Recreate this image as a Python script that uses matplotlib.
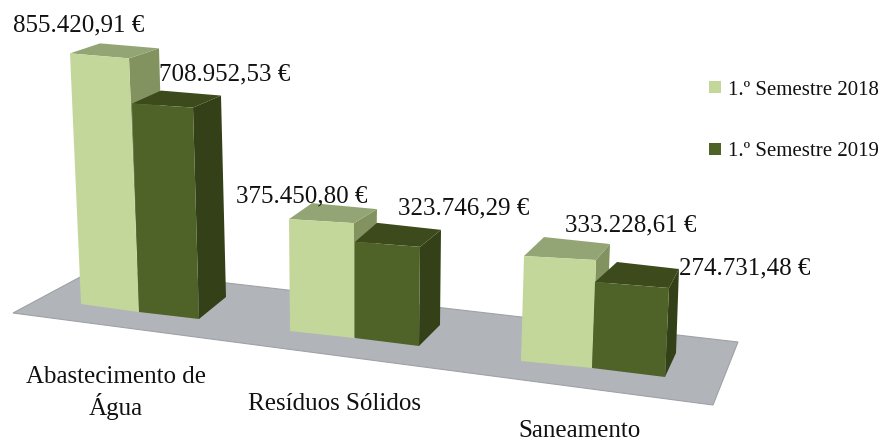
import matplotlib
matplotlib.use('Agg')
import matplotlib.pyplot as plt

plt.rcParams['font.family'] = ['Liberation Serif', 'DejaVu Serif']

# data
categories = ['Abastecimento de\nÁgua', 'Resíduos Sólidos', 'Saneamento']
series_names = ['1.º Semestre 2018', '1.º Semestre 2019']
values_2018 = [855420.91, 375450.80, 333228.61]
values_2019 = [708952.53, 323746.29, 274731.48]
labels_2018 = ['855.420,91 €', '375.450,80 €', '333.228,61 €']
labels_2019 = ['708.952,53 €', '323.746,29 €', '274.731,48 €']

# fake 3d layout, in image pixels, measured bar by bar (2018 then 2019 in each group)
base_left = [[(81, 304), (139, 312)], [(290, 331), (355, 338)], [(521, 361), (592, 368)]]
base_right = [[(139, 312), (199, 319)], [(354, 338), (419, 346)], [(592, 368), (665, 377)]]
px_per_euro = [[0.000293, 0.000294], [0.000298, 0.000297], [0.000315, 0.000313]]
lean = [[-11, -7], [-1, 0], [3, 3]]
depth_left = [[(30, -10), (29, -13)], [(23, -16), (22, -19)], [(20, -19), (22, -20)]]
depth_right = [[(30, -10), (28, -12)], [(23, -14), (21, -17)], [(14, -16), (10, -19)]]
depth_bottom = [[(27, -20), (27, -22)], [(21, -20), (21, -21)], [(14, -22), (11, -24)]]

floor = [(13, 313), (97, 268), (738, 342), (713, 405)]

light = {'front': '#C4D79B', 'top': '#94A575', 'side': '#83935F'}
dark = {'front': '#4F6228', 'top': '#3C4A1C', 'side': '#344018'}

fig = plt.figure(figsize=(8.82, 4.43), dpi=100)
ax = fig.add_axes([0, 0, 1, 1])
ax.set_xlim(0, 882)
ax.set_ylim(443, 0)
ax.axis('off')


def draw_bar(value, scale, bl, br, shift, dleft, dright, dbot, colors):
    h = value * scale
    tl = (bl[0] + shift, bl[1] - h)
    tr = (br[0] + shift + 1, br[1] - h - 3)
    tl_back = (tl[0] + dleft[0], tl[1] + dleft[1])
    tr_back = (tr[0] + dright[0], tr[1] + dright[1])
    br_back = (br[0] + dbot[0], br[1] + dbot[1])
    ax.fill(*zip(br, tr, tr_back, br_back), color=colors['side'], lw=0)
    ax.fill(*zip(tl, tr, tr_back, tl_back), color=colors['top'], lw=0)
    ax.fill(*zip(bl, br, tr, tl), color=colors['front'], lw=0)


ax.fill(*zip(*floor), facecolor='#B1B5B9', edgecolor='#9EA2A6', lw=0.8)

for i in range(3):
    draw_bar(values_2018[i], px_per_euro[i][0], base_left[i][0], base_right[i][0],
             lean[i][0], depth_left[i][0], depth_right[i][0], depth_bottom[i][0], light)
    draw_bar(values_2019[i], px_per_euro[i][1], base_left[i][1], base_right[i][1],
             lean[i][1], depth_left[i][1], depth_right[i][1], depth_bottom[i][1], dark)

# value labels
label_pos_2018 = [(79, 25), (302, 196), (631, 225)]
label_pos_2019 = [(225, 74), (464, 208), (745, 268)]
for txt, pos in zip(labels_2018 + labels_2019, label_pos_2018 + label_pos_2019):
    ax.text(pos[0], pos[1], txt, fontsize=18, color='#111111', ha='center', va='center')

# category labels
cat_pos = [(116, 393), (334, 404), (579, 431)]
for txt, pos in zip(categories, cat_pos):
    ax.text(pos[0], pos[1], txt, fontsize=18, color='#111111', ha='center', va='center', linespacing=1.24)

# legend
for name, colors, y in zip(series_names, [light, dark], [89, 151]):
    ax.fill([709, 721, 721, 709], [y - 8, y - 8, y + 4, y + 4], color=colors['front'], lw=0)
    ax.text(728, y + 1, name, fontsize=15, color='#111111', ha='left', va='center')

fig.savefig('out.png', dpi=100)
